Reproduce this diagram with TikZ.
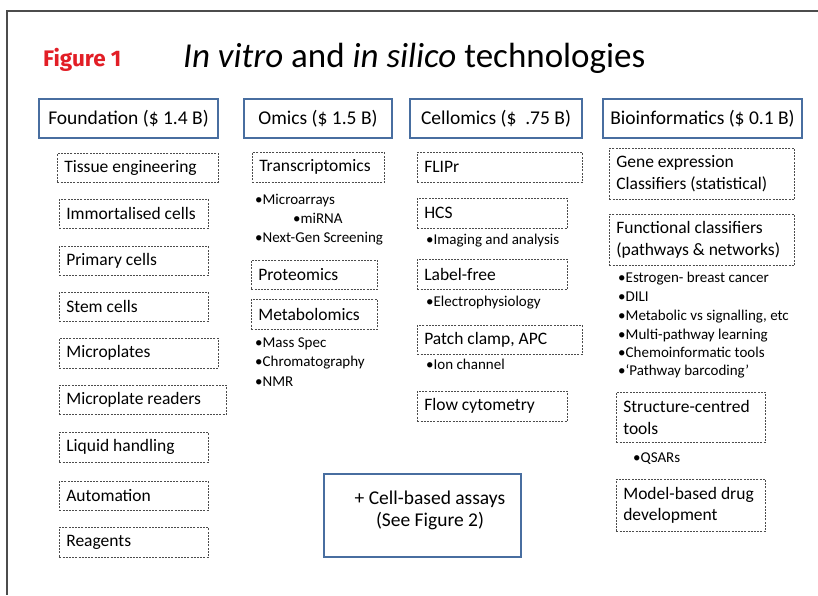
\documentclass[tikz,border=0pt]{standalone}
\usepackage{fontspec}
\setmainfont{Carlito}
\newfontfamily\figfont{Fira Sans}
\usepackage{tikz}
\usepackage{xcolor}
\usetikzlibrary{positioning}

\definecolor{headblue}{RGB}{72,110,160}
\definecolor{figred}{RGB}{226,30,38}

\begin{document}
\begin{tikzpicture}[x=1pt, y=-1pt,
        head/.style={draw=headblue, line width=1.6pt, inner sep=0pt, minimum height=39pt, font=\fontsize{19.5}{22}\selectfont},
        sub/.style={draw=black!70, dash pattern=on 2pt off 1.2pt, line width=0.6pt, anchor=north west, inner xsep=7pt, inner ysep=0pt, align=flush left, font=\fontsize{17.5}{21.5}\selectfont},
        item/.style={anchor=west, inner sep=0pt, text height=10.5pt, text depth=3pt, font=\fontsize{15}{17}\selectfont}]

        \useasboundingbox (0, 0) rectangle (818, 595);
        \draw[black!70, line width=1.5pt] (818, 11) -- (7, 11) -- (7, 595);

        \node[anchor=west, inner sep=0pt, text=figred, font=\figfont\bfseries\fontsize{22.5}{26}\selectfont] (fig) at (43, 60) {Figure 1};
        \node[anchor=west, inner sep=0pt, font=\fontsize{35}{40}\selectfont] (title) at (183, 58) {\textit{In vitro} and \textit{in silico} technologies};

        \node[head, minimum width=179pt] (fd) at (128.5, 118.5) {Foundation (\$ 1.4 B)};
        \node[head, minimum width=148pt] (om) at (318, 118.5) {Omics (\$ 1.5 B)};
        \node[head, minimum width=172pt] (ce) at (496, 118.5) {Cellomics (\$ \ .75 B)};
        \node[head, minimum width=199pt] (bi) at (702.5, 118.5) {Bioinformatics (\$ 0.1 B)};

        % foundation
        \node[sub, text width=147pt, minimum height=29pt] (f1) at (57, 153) {Tissue engineering};
        \node[sub, text width=135pt, minimum height=29pt] (f2) at (59, 199) {Immortalised cells};
        \node[sub, text width=135pt, minimum height=29pt] (f3) at (59, 246) {Primary cells};
        \node[sub, text width=135pt, minimum height=29pt] (f4) at (59, 292) {Stem cells};
        \node[sub, text width=145pt, minimum height=30pt] (f5) at (59, 338) {Microplates};
        \node[sub, text width=153pt, minimum height=29pt] (f6) at (59, 385) {Microplate readers};
        \node[sub, text width=135pt, minimum height=30pt] (f7) at (59, 432) {Liquid handling};
        \node[sub, text width=135pt, minimum height=29pt] (f8) at (59, 481) {Automation};
        \node[sub, text width=135pt, minimum height=30pt] (f9) at (59, 527) {Reagents};

        % omics
        \node[sub, text width=118pt, minimum height=30pt] (o1) at (252, 152) {Transcriptomics};
        \node[item] (o2) at (255, 201) {•Microarrays};
        \node[item] (o3) at (293, 220) {•miRNA};
        \node[item] (o4) at (255, 239) {•Next-Gen Screening};
        \node[sub, text width=112pt, minimum height=29pt] (o5) at (251, 260) {Proteomics};
        \node[sub, text width=112pt, minimum height=30pt] (o6) at (251, 299) {Metabolomics};
        \node[item] (o7) at (255, 344) {•Mass Spec};
        \node[item] (o8) at (255, 363) {•Chromatography};
        \node[item] (o9) at (255, 383) {•NMR};

        % cellomics
        \node[sub, text width=151pt, minimum height=30pt] (c1) at (417, 152) {FLIPr};
        \node[sub, text width=136pt, minimum height=30pt] (c2) at (417, 198) {HCS};
        \node[item] (c3) at (426, 241) {•Imaging and analysis};
        \node[sub, text width=136pt, minimum height=30pt] (c4) at (417, 259) {Label-free};
        \node[item] (c5) at (426, 303) {•Electrophysiology};
        \node[sub, text width=151pt, minimum height=29pt] (c6) at (417, 325) {Patch clamp, APC};
        \node[item] (c7) at (426, 366) {•Ion channel};
        \node[sub, text width=136pt, minimum height=30pt] (c8) at (417, 391) {Flow cytometry};

        % bioinformatics
        \node[sub, text width=171pt, minimum height=51pt] (b1) at (609, 148) {Gene expression\\Classifiers (statistical)};
        \node[sub, text width=171pt, minimum height=51pt] (b2) at (609, 214) {Functional classifiers\\(pathways \& networks)};
        \node[item] (b3) at (618, 279) {•Estrogen- breast cancer};
        \node[item] (b4) at (618, 298) {•DILI};
        \node[item] (b5) at (618, 317) {•Metabolic vs signalling, etc};
        \node[item] (b6) at (618, 336) {•Multi-pathway learning};
        \node[item] (b7) at (618, 354) {•Chemoinformatic tools};
        \node[item] (b8) at (618, 372) {•‘Pathway barcoding’};
        \node[sub, text width=135pt, minimum height=50pt] (b9) at (616, 392) {Structure-centred\\tools};
        \node[item] (b10) at (633, 459) {•QSARs};
        \node[sub, text width=135pt, minimum height=52pt] (b11) at (616, 479) {Model-based drug\\development};

        \node[head, minimum width=197pt, minimum height=83pt, align=flush center, text depth=13pt] (cb) at (422.5, 515.5) {\hspace*{15pt}+ Cell-based assays\\\hspace*{15pt}(See Figure 2)};
    \end{tikzpicture}
\end{document}
